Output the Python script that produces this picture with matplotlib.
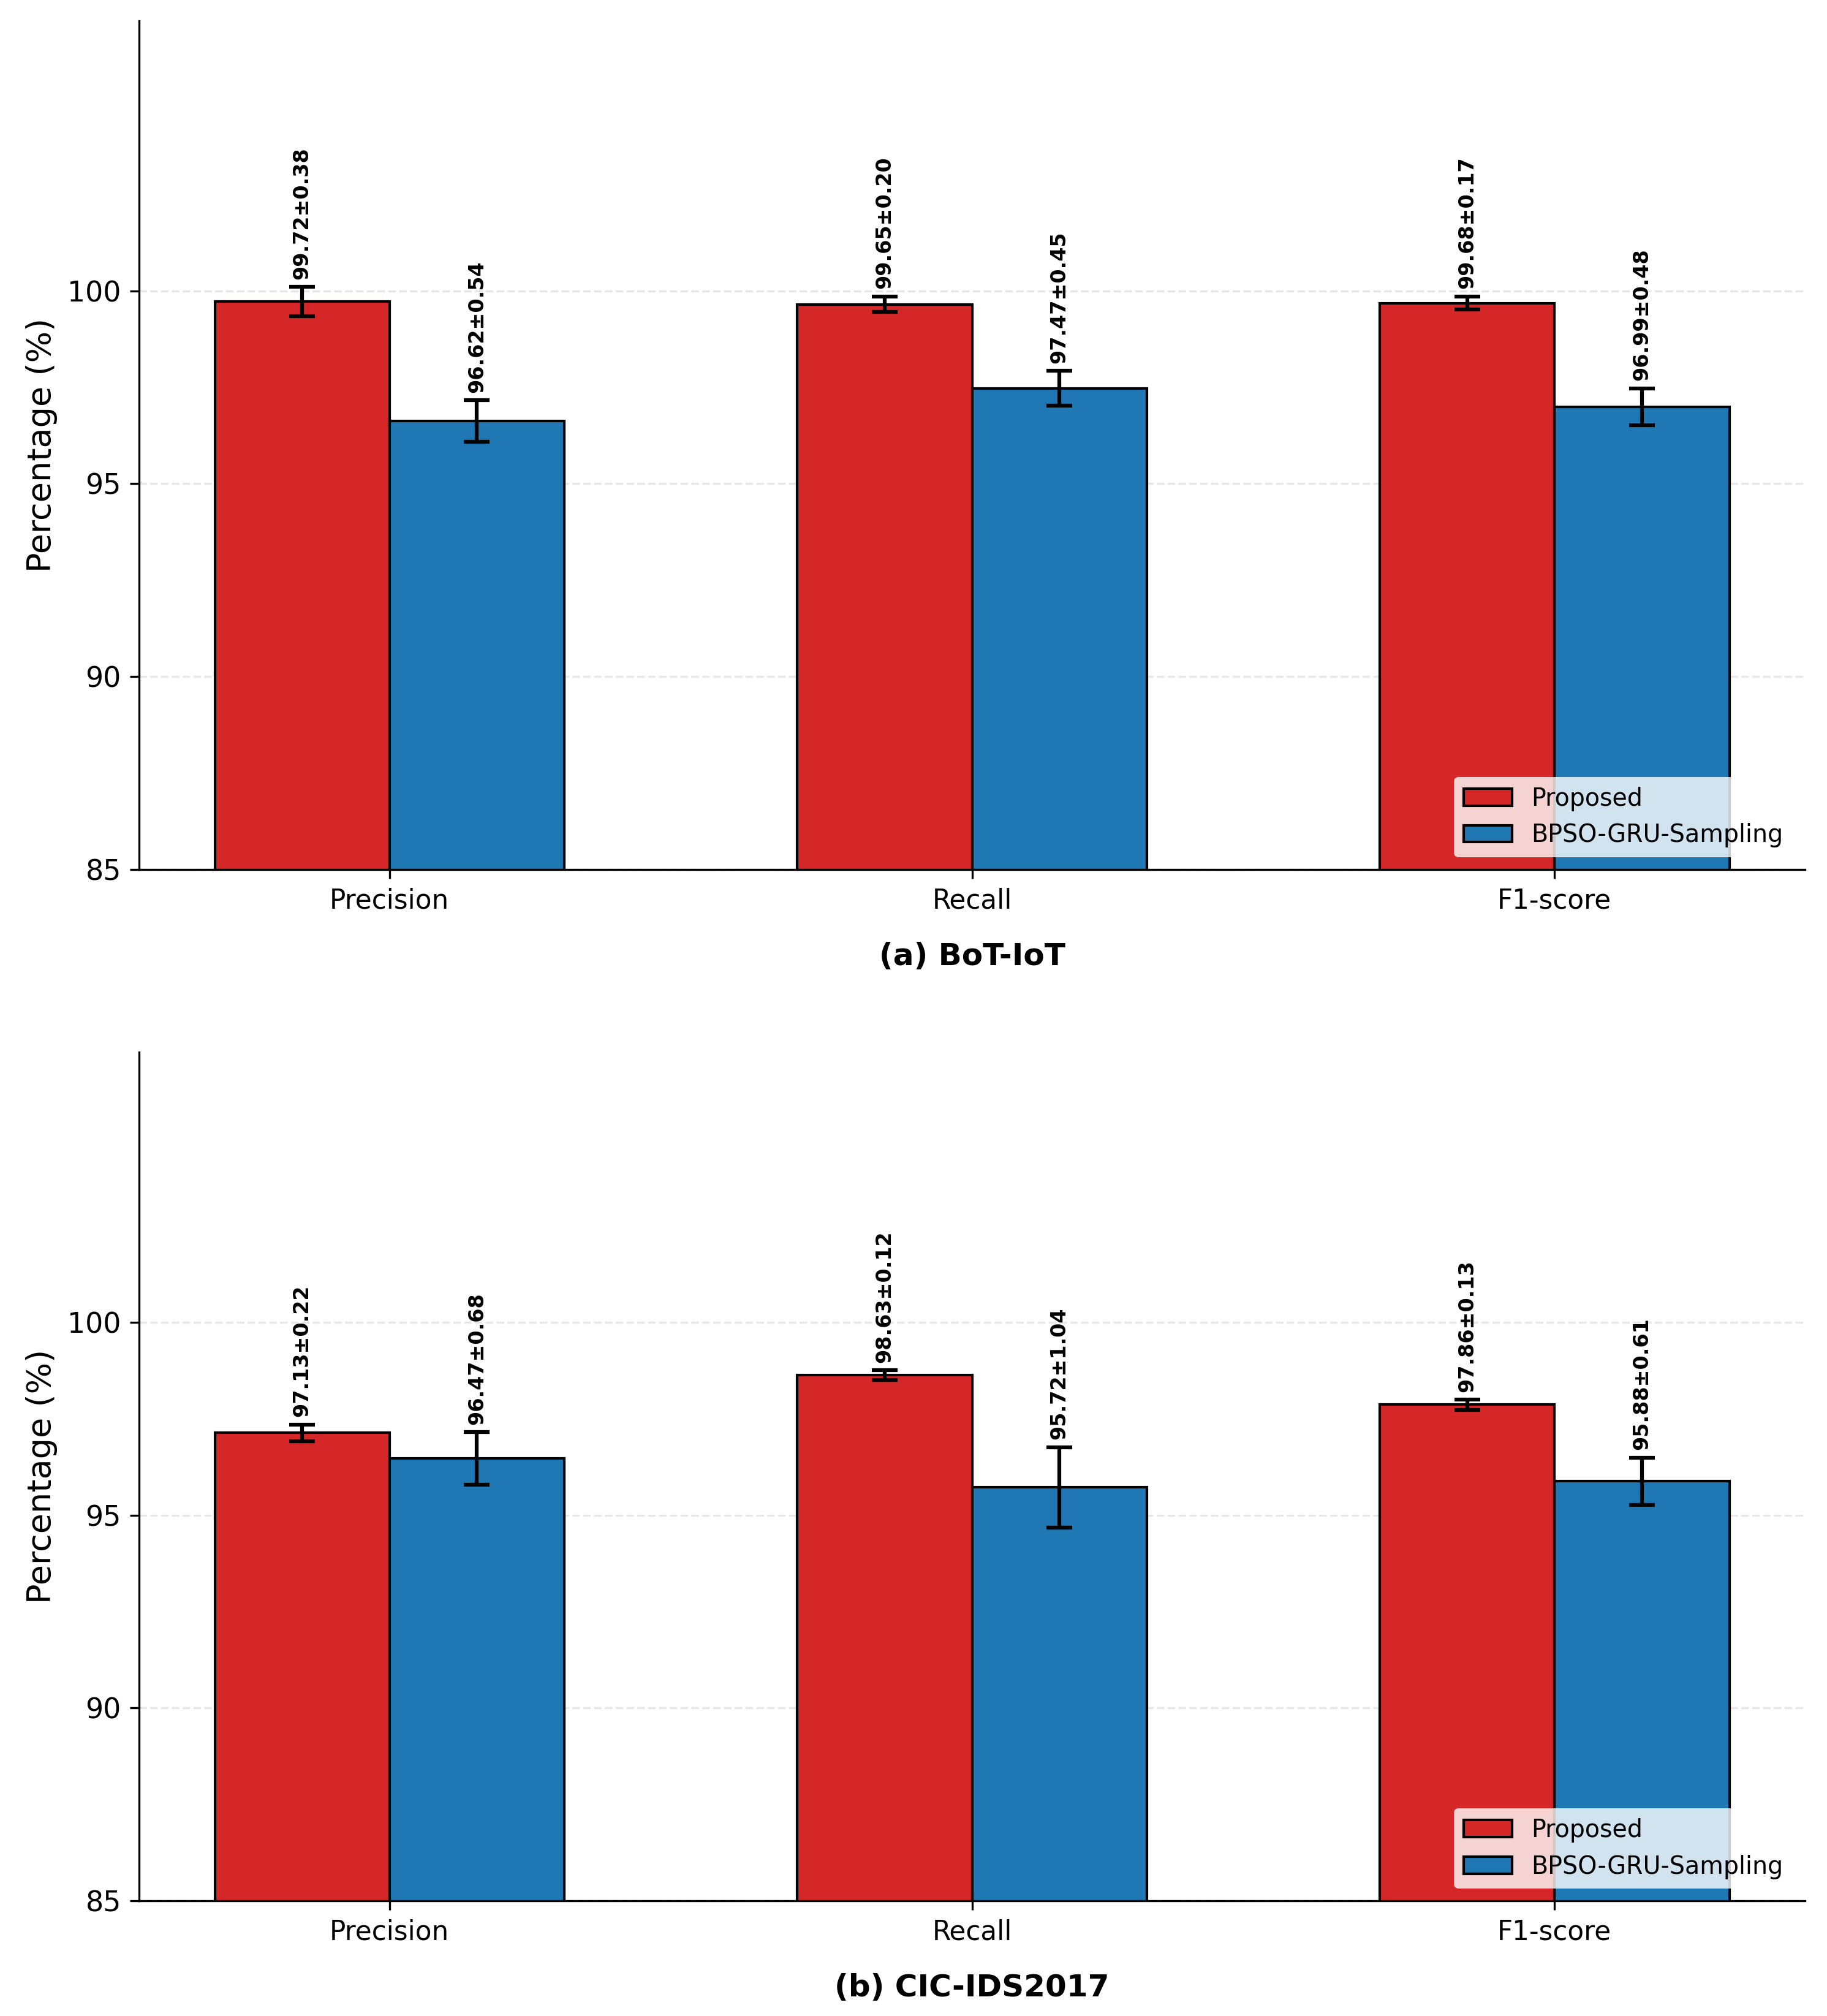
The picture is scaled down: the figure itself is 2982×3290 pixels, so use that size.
import matplotlib.pyplot as plt
import numpy as np

metrics = ['Precision', 'Recall', 'F1-score']
methods = ['Proposed', 'BPSO-GRU-Sampling']
colors = ['#d62728', '#1f77b4']

# BoT-IoT
bot_prop = [99.72, 99.65, 99.68]
bot_prop_err = [0.38, 0.20, 0.17]
bot_bpso = [96.62, 97.47, 96.99]
bot_bpso_err = [0.54, 0.45, 0.48]

# CIC-IDS2017
cic_prop = [97.13, 98.63, 97.86]
cic_prop_err = [0.22, 0.12, 0.13]
cic_bpso = [96.47, 95.72, 95.88]
cic_bpso_err = [0.68, 1.04, 0.61]

panels = [
    ('(a) BoT-IoT', [bot_prop, bot_bpso], [bot_prop_err, bot_bpso_err]),
    ('(b) CIC-IDS2017', [cic_prop, cic_bpso], [cic_prop_err, cic_bpso_err]),
]

fig = plt.figure(figsize=(9.94, 10.967), dpi=300)
axes = [fig.add_axes([0.0761, 0.5687, 0.9119, 0.421]),
        fig.add_axes([0.0761, 0.0571, 0.9119, 0.421])]

x = np.arange(len(metrics))
w = 0.3

for ax, (title, vals, errs) in zip(axes, panels):
    for i in range(2):
        pos = x + (i - 0.5) * w
        ax.bar(pos, vals[i], w, yerr=errs[i], color=colors[i], edgecolor='black',
               linewidth=1, label=methods[i], capsize=5,
               error_kw=dict(elinewidth=1.5, capthick=1.5, ecolor='black'))
        for p, v, e in zip(pos, vals[i], errs[i]):
            ax.text(p, v + e + 0.2, f'{v:.2f}±{e:.2f}', rotation=90,
                    ha='center', va='bottom', fontsize=8, fontweight='bold')
    ax.set_ylim(85, 107)
    ax.set_yticks([85, 90, 95, 100])
    ax.set_xticks(x)
    ax.set_xticklabels(metrics, fontsize=10.5)
    ax.tick_params(axis='y', labelsize=11)
    ax.set_ylabel('Percentage (%)', fontsize=13)
    ax.set_xlabel(title, fontsize=12, fontweight='bold', labelpad=11)
    ax.grid(axis='y', linestyle='--', alpha=0.3)
    ax.set_axisbelow(True)
    ax.spines['top'].set_visible(False)
    ax.spines['right'].set_visible(False)
    ax.legend(loc='lower right', fontsize=9.5, framealpha=0.8, edgecolor='none')

fig.savefig('out.png', dpi=300)
